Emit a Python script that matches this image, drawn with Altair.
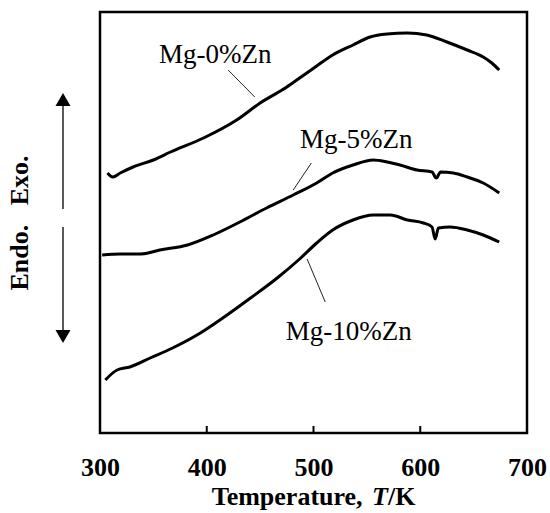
import altair as alt
import pandas as pd

# ---- data ----
temp_0 = [307, 312, 319, 331, 350, 366, 397, 428, 450, 475, 487, 503, 518, 537, 553, 569, 588, 606, 625, 644, 659, 667, 674]
val_0 = [260, 256, 260, 266, 273, 281, 295, 313, 330, 346, 355, 367, 378, 388, 396, 399, 400, 398, 391, 383, 376, 370, 363]

temp_5 = [302, 319, 338, 356, 382, 406, 431, 456, 481, 503, 518, 537, 556, 569, 581, 597, 611, 615, 619, 631, 644, 659, 674]
val_5 = [178, 179, 179, 183, 188, 198, 211, 225, 238, 250, 260, 268, 273, 271, 268, 263, 261, 255, 261, 260, 256, 250, 240]

temp_10 = [305, 316, 328, 347, 368, 394, 415, 441, 466, 487, 503, 518, 537, 556, 572, 588, 603, 611, 614, 617, 628, 644, 659, 674]
val_10 = [53, 63, 66, 75, 85, 100, 115, 135, 155, 174, 190, 203, 213, 218, 218, 213, 210, 206, 194, 205, 206, 203, 198, 191]

series_names = ["Mg-0%Zn", "Mg-5%Zn", "Mg-10%Zn"]
label_T = [408, 540, 533]
label_v = [378, 293, 101]
leader_T1 = [420, 498, 494]
leader_v1 = [363, 270, 174]
leader_T2 = [445, 481, 511]
leader_v2 = [336, 243, 131]

x_ticks = [300, 400, 500, 600, 700]
inner_ticks = [400, 500, 600]

W, H = 427, 421
FONT = "Liberation Serif"

rows = []
for name, ts, vs in zip(series_names, [temp_0, temp_5, temp_10], [val_0, val_5, val_10]):
    for t, v in zip(ts, vs):
        rows.append({"series": name, "T": t, "v": v})
curves = pd.DataFrame(rows)

labels = pd.DataFrame({"name": series_names, "T": label_T, "v": label_v})
leaders = pd.DataFrame({"T1": leader_T1, "v1": leader_v1, "T2": leader_T2, "v2": leader_v2})
ticks_df = pd.DataFrame({"T": inner_ticks})

xscale = alt.Scale(domain=[300, 700], nice=False)
yscale = alt.Scale(domain=[0, 421], nice=False)
xaxis = alt.Axis(values=x_ticks, title=None, grid=False, domain=False, ticks=False, tickSize=0,
                 labelFont=FONT, labelFontSize=26, labelFontWeight="bold", labelColor="black",
                 labelPadding=21, labelFlush=False, format="d")

lines = alt.Chart(curves).mark_line(color="black", strokeWidth=3, interpolate="monotone").encode(
    x=alt.X("T:Q", scale=xscale, axis=xaxis),
    y=alt.Y("v:Q", scale=yscale, axis=None),
    detail="series:N",
)

ticks = alt.Chart(ticks_df).mark_rule(color="black", strokeWidth=2).encode(
    x=alt.X("T:Q", scale=xscale, axis=xaxis),
    y=alt.value(H),
    y2=alt.value(H - 7),
)

lead = alt.Chart(leaders).mark_rule(color="#222", strokeWidth=1).encode(
    x=alt.X("T1:Q", scale=xscale, axis=xaxis),
    x2="T2:Q",
    y=alt.Y("v1:Q", scale=yscale, axis=None),
    y2="v2:Q",
)

lab = alt.Chart(labels).mark_text(font=FONT, fontSize=27, color="black", align="center", baseline="middle").encode(
    x=alt.X("T:Q", scale=xscale, axis=xaxis),
    y=alt.Y("v:Q", scale=yscale, axis=None),
    text="name:N",
)

# x-axis title with italic T
t1 = alt.Chart(pd.DataFrame({"t": ["Temperature,"]})).mark_text(
    font=FONT, fontSize=26, fontWeight="bold", align="left", baseline="alphabetic", color="black"
).encode(x=alt.value(111.7), y=alt.value(493), text="t:N")
t2 = alt.Chart(pd.DataFrame({"t": ["T"]})).mark_text(
    font=FONT, fontSize=26, fontWeight="bold", fontStyle="italic", align="left", baseline="alphabetic", color="black"
).encode(x=alt.value(272), y=alt.value(493), text="t:N")
t3 = alt.Chart(pd.DataFrame({"t": ["/K"]})).mark_text(
    font=FONT, fontSize=26, fontWeight="bold", align="left", baseline="alphabetic", color="black"
).encode(x=alt.value(288), y=alt.value(493), text="t:N")

# y "axis" annotation: Endo. / Exo. with arrows
ylab = alt.Chart(pd.DataFrame({"t": ["Endo.\u00a0\u00a0\u00a0Exo."]})).mark_text(
    font=FONT, fontSize=26, fontWeight="bold", angle=270, align="center", baseline="middle", color="black"
).encode(x=alt.value(-80), y=alt.value(211), text="t:N")

one = pd.DataFrame({"a": [0]})
arrow_up_line = alt.Chart(one).mark_rule(color="black", strokeWidth=1.3).encode(
    x=alt.value(-37), y=alt.value(94), y2=alt.value(197))
arrow_dn_line = alt.Chart(one).mark_rule(color="black", strokeWidth=1.3).encode(
    x=alt.value(-37), y=alt.value(215), y2=alt.value(320))
head_up = alt.Chart(one).mark_point(shape="triangle-up", filled=True, size=225, color="black", opacity=1).encode(
    x=alt.value(-37), y=alt.value(87.5))
head_dn = alt.Chart(one).mark_point(shape="triangle-down", filled=True, size=225, color="black", opacity=1).encode(
    x=alt.value(-37), y=alt.value(324.5))

chart = alt.layer(
    lines, ticks, lead, lab, t1, t2, t3, ylab, arrow_up_line, arrow_dn_line, head_up, head_dn
).properties(
    width=W, height=H,
    padding={"left": 100, "top": 12, "right": 23, "bottom": 80},
    autosize=alt.AutoSizeParams(type="none"),
    background="white",
).configure_view(
    stroke="black", strokeWidth=2.5
)

chart.save("out.html", embed_options={"renderer": "svg", "actions": False})
